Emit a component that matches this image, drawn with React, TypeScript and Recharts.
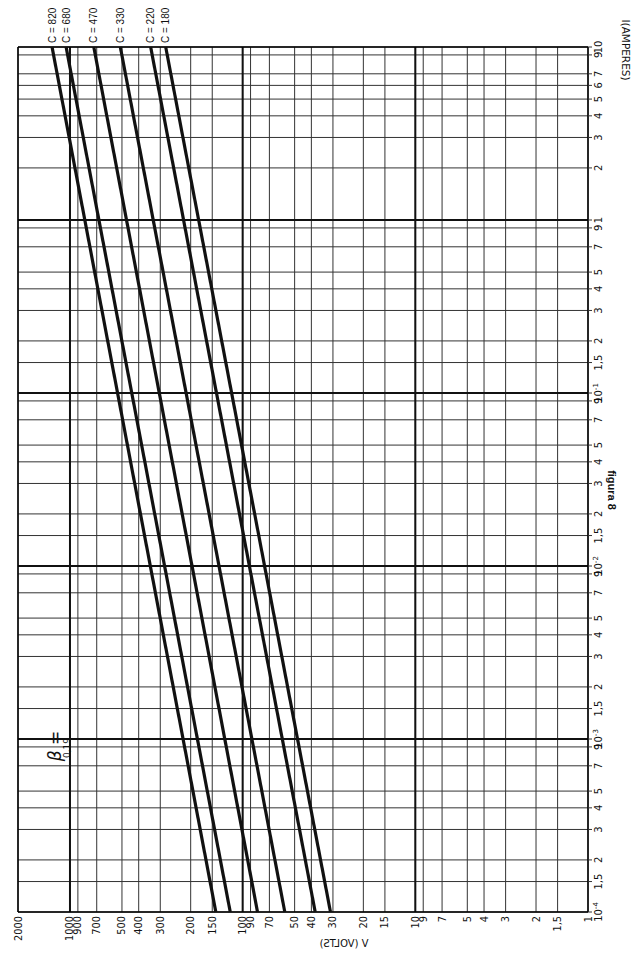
import React from 'react';
import { ScatterChart, Scatter, XAxis, YAxis, CartesianGrid, ReferenceLine } from 'recharts';

const capacitances = [820, 680, 470, 330, 220, 180];
const currentLow = 0.0001;
const currentHigh = 10;
const voltsAtLowCurrent = [143, 118, 82, 57, 38, 31];
const voltsAtHighCurrent = [1270, 1053, 728, 511, 341, 279];

const voltTicks = [1, 1.5, 2, 3, 4, 5, 7, 9, 10, 15, 20, 30, 40, 50, 70, 90, 100, 150, 200, 300, 400, 500, 700, 900, 1000, 2000];
const ampTicks = [
  0.0001, 0.00015, 0.0002, 0.0003, 0.0004, 0.0005, 0.0007, 0.0009,
  0.001, 0.0015, 0.002, 0.003, 0.004, 0.005, 0.007, 0.009,
  0.01, 0.015, 0.02, 0.03, 0.04, 0.05, 0.07, 0.09,
  0.1, 0.15, 0.2, 0.3, 0.4, 0.5, 0.7, 0.9,
  1, 2, 3, 4, 5, 6, 7, 9, 10,
];
const voltDecades = [10, 100, 1000];
const ampDecades = [0.001, 0.01, 0.1, 1];

const FONT = '"DejaVu Sans", "Liberation Sans", sans-serif';

const series = capacitances.map((c, k) => [
  { v: voltsAtLowCurrent[k], i: currentLow, c },
  { v: voltsAtHighCurrent[k], i: currentHigh, c },
]);

function VoltTick(props: any) {
  const { x, y, payload } = props;
  const label = String(payload.value).replace('.', ',');
  return (
    <text
      transform={`translate(${x + 3.5},${y}) rotate(-90)`}
      textAnchor="end"
      fontSize={9.8}
      fontFamily={FONT}
      fill="#111"
    >
      {label}
    </text>
  );
}

function AmpTick(props: any) {
  const { x, y, payload } = props;
  const v: number = payload.value;
  const lg = Math.log10(v);
  const e = Math.round(lg);
  const isDecade = Math.abs(lg - e) < 1e-6;
  let content: React.ReactNode;
  if (isDecade && e < 0) {
    content = (
      <>
        10
        <tspan dy={-4} fontSize={7}>{`-${-e}`}</tspan>
      </>
    );
  } else if (isDecade) {
    content = String(v);
  } else {
    const m = Math.round((v / Math.pow(10, Math.floor(lg))) * 10) / 10;
    content = String(m).replace('.', ',');
  }
  return (
    <text
      transform={`translate(${x + 7.5},${y}) rotate(-90)`}
      textAnchor="middle"
      fontSize={10}
      fontFamily={FONT}
      fill="#111"
    >
      {content}
    </text>
  );
}

function EndShape(props: any) {
  const { cx, cy, payload } = props;
  if (!payload || payload.i !== currentHigh) return <g />;
  return (
    <text
      transform={`translate(${cx + 3.5},${cy - 4}) rotate(-90)`}
      textAnchor="start"
      fontSize={10}
      fontFamily='"Liberation Sans", Arial, sans-serif'
      fill="#111"
    >
      {`C = ${payload.c}`}
    </text>
  );
}

export default function App() {
  return (
    <div style={{ position: 'relative', width: 640, height: 965, margin: '-8px 0 0 -8px', background: '#fff' }}>
      <ScatterChart width={640} height={965} margin={{ top: 47, right: 0, left: 18, bottom: 0 }}>
        <CartesianGrid stroke="#333" strokeWidth={1} />
        <XAxis
          type="number"
          dataKey="v"
          scale="log"
          domain={[1, 2000]}
          reversed
          ticks={voltTicks}
          interval={0}
          tick={<VoltTick />}
          tickLine={false}
          tickSize={0}
          tickMargin={4}
          height={53}
          axisLine={{ stroke: '#000', strokeWidth: 1.5 }}
        />
        <YAxis
          type="number"
          dataKey="i"
          scale="log"
          domain={[0.0001, 10]}
          orientation="right"
          ticks={ampTicks}
          interval={0}
          tick={<AmpTick />}
          tickSize={4}
          tickMargin={2}
          tickLine={{ stroke: '#333' }}
          width={52}
          axisLine={{ stroke: '#000', strokeWidth: 1.5 }}
        />
        {voltDecades.map((d) => (
          <ReferenceLine key={`vx${d}`} x={d} stroke="#111" strokeWidth={2} />
        ))}
        {ampDecades.map((d) => (
          <ReferenceLine key={`ay${d}`} y={d} stroke="#111" strokeWidth={2} />
        ))}
        <ReferenceLine x={2000} stroke="#000" strokeWidth={1.5} />
        <ReferenceLine y={10} stroke="#000" strokeWidth={1.5} />
        {series.map((d, k) => (
          <Scatter
            key={capacitances[k]}
            data={d}
            line={{ stroke: '#111', strokeWidth: 3.2 }}
            lineType="joint"
            shape={<EndShape />}
            isAnimationActive={false}
          />
        ))}
      </ScatterChart>
      <svg
        width={640}
        height={965}
        style={{ position: 'absolute', left: 0, top: 0, pointerEvents: 'none' }}
      >
        <text
          transform="translate(622,50) rotate(90)"
          textAnchor="middle"
          fontSize={10.5}
          fontFamily={FONT}
          fill="#111"
        >
          I(AMPERES)
        </text>
        <text
          transform="translate(608,490) rotate(90)"
          textAnchor="middle"
          fontSize={11}
          fontWeight="bold"
          fontFamily='"Liberation Sans Narrow", "Liberation Sans", sans-serif'
          fill="#111"
        >
          figura 8
        </text>
        <text
          transform="translate(344,947) scale(-1,1)"
          textAnchor="middle"
          fontSize={10}
          fontFamily={FONT}
          fill="#111"
        >
          V (VOLTS)
        </text>
        <text
          transform="translate(61,746) rotate(-90)"
          textAnchor="middle"
          fontSize={17}
          fontStyle="italic"
          fontFamily={FONT}
          fill="#111"
        >
          β =
        </text>
        <text
          transform="translate(70,748) rotate(-90)"
          textAnchor="middle"
          fontSize={9}
          fontFamily={FONT}
          fill="#111"
        >
          0,19
        </text>
      </svg>
    </div>
  );
}
